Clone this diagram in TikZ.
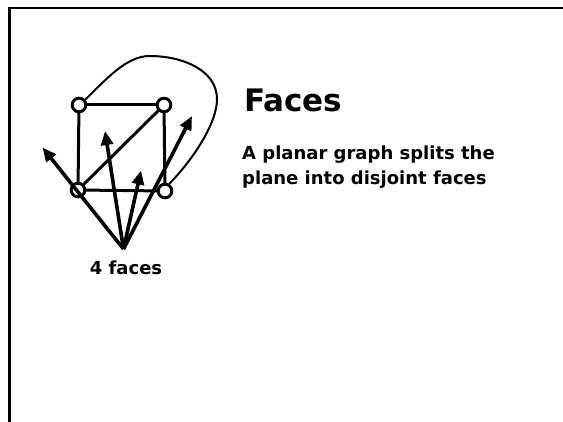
\documentclass[tikz,border=0pt]{standalone}
\usepackage{fontspec}
\setmainfont{DejaVu Sans}
\usetikzlibrary{arrows.meta}
\tikzset{
  vtx/.style={circle,draw=black,fill=white,line width=2.8pt,minimum size=13.5pt,inner sep=0pt},
  edge/.style={line width=3pt},
  facearrow/.style={line width=3.6pt,-{Triangle[length=14pt,width=12pt]}},
  frame/.style={line width=2.4pt},
  outer/.style={line width=2pt}
}
\begin{document}
\begin{tikzpicture}[x=1pt,y=-1pt]
\useasboundingbox (0,0) rectangle (563,422);
% frame
\coordinate (f1) at (9.5,422);
\coordinate (f2) at (9.5,8.2);
\coordinate (f3) at (563,8.2);
\draw[frame] (f1) -- (f2) -- (f3);
% vertices
\node[vtx] (tl) at (79,105) {};
\node[vtx] (tr) at (164,105) {};
\node[vtx] (bl) at (78,190) {};
\node[vtx] (br) at (165,191) {};
% edges
\draw[edge] (tl) -- (tr);
\draw[edge] (tl) -- (bl);
\draw[edge] (tr) -- (br);
\draw[edge] (bl) -- (br);
\draw[edge] (bl) -- (tr);
% outer curved edge
\draw[outer] (tl.40) .. controls (110,75) and (128,56) .. (150,56)
  .. controls (182,56) and (217,70) .. (217,99)
  .. controls (217,125) and (190,163) .. (br.60);
% redraw vertices over edges
\node[vtx] at (tl) {};
\node[vtx] at (tr) {};
\node[vtx] at (bl) {};
\node[vtx] at (br) {};
% arrows
\coordinate (o) at (123.5,249);
\coordinate (a1) at (42.5,147.5);
\coordinate (a2) at (105,131);
\coordinate (a3) at (141,170.5);
\coordinate (a4) at (192,116);
\draw[facearrow] (o) -- (a1);
\draw[facearrow] (o) -- (a2);
\draw[facearrow] (o) -- (a3);
\draw[facearrow] (o) -- (a4);
% texts
\node[anchor=base,inner sep=0pt,font=\bfseries\fontsize{18}{20}\selectfont] (lbl) at (126,275) {4 faces};
\node[anchor=base west,inner sep=0pt,font=\bfseries\fontsize{31}{34}\selectfont] (title) at (244,111.5) {Faces};
\node[anchor=base west,inner sep=0pt,align=left,font=\bfseries\fontsize{18}{25.7}\selectfont] (body) at (242,185) {A planar graph splits the\\plane into disjoint faces};
\end{tikzpicture}
\end{document}
